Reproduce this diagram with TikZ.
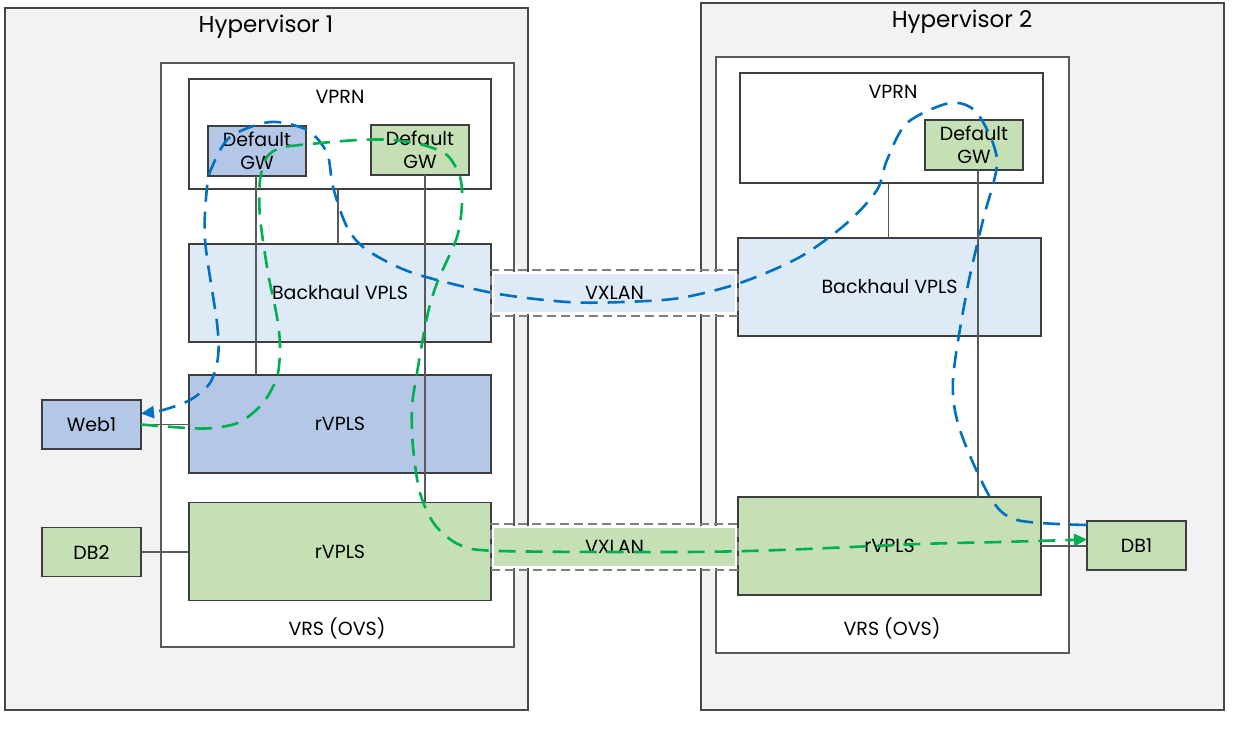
\documentclass[tikz,border=0pt]{standalone}
\usepackage{fontspec}
\setmainfont{Poppins}
\usetikzlibrary{arrows.meta,positioning}
\definecolor{hvgray}{RGB}{242,242,242}
\definecolor{bhblue}{RGB}{222,235,247}
\definecolor{rvblue}{RGB}{180,199,231}
\definecolor{rvgreen}{RGB}{197,224,180}
\definecolor{pathblue}{RGB}{0,112,192}
\definecolor{pathgreen}{RGB}{0,176,80}
\definecolor{edgegray}{RGB}{89,89,89}
\tikzset{
    hyper/.style={draw=edgegray!80!black, fill=hvgray, line width=1.2pt, inner sep=0pt, outer sep=0pt},
    vrs/.style={draw=edgegray, fill=white, line width=1.4pt, inner sep=0pt, outer sep=0pt},
    box/.style={draw=edgegray!70!black, line width=1.4pt, inner sep=0pt, outer sep=0pt, align=center},
    vprn/.style={box, fill=white, minimum width=302pt, minimum height=110pt},
    gwblue/.style={box, fill=rvblue, minimum width=98pt, minimum height=50pt},
    gwgreen/.style={box, fill=rvgreen, minimum width=98pt, minimum height=50pt},
    backhaul/.style={box, fill=bhblue, minimum width=302pt, minimum height=98pt},
    rvplsB/.style={box, fill=rvblue, minimum width=302pt, minimum height=98pt},
    rvplsG/.style={box, fill=rvgreen, minimum width=302pt, minimum height=98pt},
    host/.style={box, minimum width=99pt, minimum height=49pt},
    link/.style={draw=edgegray, line width=1.5pt},
    tunnel/.style={draw=gray, line width=1.5pt, dash pattern=on 9pt off 5pt, minimum width=247pt, minimum height=46pt, inner sep=0pt},
    tunnelfill/.style={draw=white, line width=1.5pt, minimum width=243pt, minimum height=40pt, inner sep=0pt},
    flowB/.style={draw=pathblue, line width=2.6pt, dash pattern=on 17pt off 10pt},
    flowG/.style={draw=pathgreen, line width=2.6pt, dash pattern=on 17pt off 10pt},
    title/.style={font=\fontsize{23}{27}\selectfont},
    lbl/.style={font=\fontsize{19}{23}\selectfont},
}

\begin{document}
\begin{tikzpicture}[x=1pt, y=-1pt, lbl]
    \useasboundingbox (0,0) rectangle (1260,736);

    % Hypervisors
    \node[hyper, minimum width=523pt, minimum height=702pt] (H1) at (266.5,359) {};
    \node[hyper, minimum width=523pt, minimum height=707pt] (H2) at (962.5,356.5) {};
    \node[title] at (266,27) {Hypervisor 1};
    \node[title] at (962,22) {Hypervisor 2};

    % VRS (OVS)
    \node[vrs, minimum width=353pt, minimum height=584pt] (VRS1) at (337.5,355) {};
    \node[vrs, minimum width=353pt, minimum height=596pt] (VRS2) at (892.5,355) {};
    \node at (337,628) {VRS (OVS)};
    \node at (892,628) {VRS (OVS)};

    % Hypervisor 1
    \node[vprn] (VPRN1) at (340,134) {};
    \node at (340,97) {VPRN};
    \node[gwblue] (GWb1) at (257,151) {Default\\GW};
    \node[gwgreen] (GWg1) at (420,150) {Default\\GW};
    \node[backhaul] (BH1) at (340,293) {Backhaul VPLS};
    \node[rvplsB] (RVb1) at (340,424) {rVPLS};
    \node[rvplsG] (RVg1) at (340,551.5) {rVPLS};
    \node[host, fill=rvblue] (Web1) at (91.5,424.5) {Web1};
    \node[host, fill=rvgreen] (DB2) at (91.5,552) {DB2};

    % Hypervisor 2
    \node[vprn, minimum width=303pt] (VPRN2) at (891.5,128) {};
    \node at (893,92) {VPRN};
    \node[gwgreen] (GW2) at (974,145) {Default\\GW};
    \node[backhaul, minimum width=303pt] (BH2) at (889.5,287) {Backhaul VPLS};
    \node[rvplsG, minimum width=303pt] (RVg2) at (889.5,546) {rVPLS};
    \node[host, fill=rvgreen] (DB1) at (1136.5,545.5) {DB1};

    % Links
    \draw[link] ([xshift=-2pt]VPRN1.south) -- ([xshift=-2pt]VPRN1.south |- BH1.north);
    \draw[link] ([xshift=-1pt]GWb1.south) -- ([xshift=-1pt]GWb1.south |- RVb1.north);
    \draw[link] ([xshift=5pt]GWg1.south) -- ([xshift=5pt]GWg1.south |- RVg1.north);
    \draw[link] (Web1.east) -- (Web1.east -| RVb1.west);
    \draw[link] (DB2.east) -- (DB2.east -| RVg1.west);
    \draw[link] ([xshift=-3pt]VPRN2.south) -- ([xshift=-3pt]VPRN2.south |- BH2.north);
    \draw[link] ([xshift=4pt]GW2.south) -- ([xshift=4pt]GW2.south |- RVg2.north);
    \draw[link] (RVg2.east) -- (RVg2.east -| DB1.west);

    % VXLAN tunnels
    \node[tunnel] (VXt) at (614.5,293) {};
    \node[tunnelfill, fill=bhblue] at (VXt) {VXLAN};
    \node[tunnel] (VXb) at (614.5,547) {};
    \node[tunnelfill, fill=rvgreen] at (VXb) {VXLAN};

    % Flows
    \draw[flowB, -{Triangle[length=13pt,width=12pt]}] plot[smooth] coordinates {
        ([yshift=-4pt]DB1.north west) (1017,520) (990,497) (960,430) (953,380)
        (967,290) (983,220) (997,160) (977,113) (950,103) (907,123) (887,160)
        (877,190) (847,223) (800,257) (740,283) (680,298) (623,302) (567,302)
        (493,293) (413,273) (367,250) (347,227) (333,187) (327,153) (307,130)
        (270,122) (230,137) (212,167) (207,187) (205,240) (217,323) (218,357)
        (210,383) (190,400) (163,410) ([yshift=11pt]Web1.east)};
    \draw[flowG, -{Triangle[length=13pt,width=12pt]}] plot[smooth] coordinates {
        (Web1.east) (187,428) (213,428) (240,422) (263,403) (277,377) (280,347)
        (277,317) (268,273) (260,217) (260,180) (267,157) (280,148) (300,145)
        (357,140) (393,140) (423,145) (447,155) (460,177) (462,203) (457,237)
        (437,283) (427,317) (417,373) (412,407) (413,447) (420,493) (435,525)
        (460,545) (500,551) (680,552) (780,550) (920,544) (1000,542)
        ([yshift=6pt]DB1.west)};
\end{tikzpicture}
\end{document}
